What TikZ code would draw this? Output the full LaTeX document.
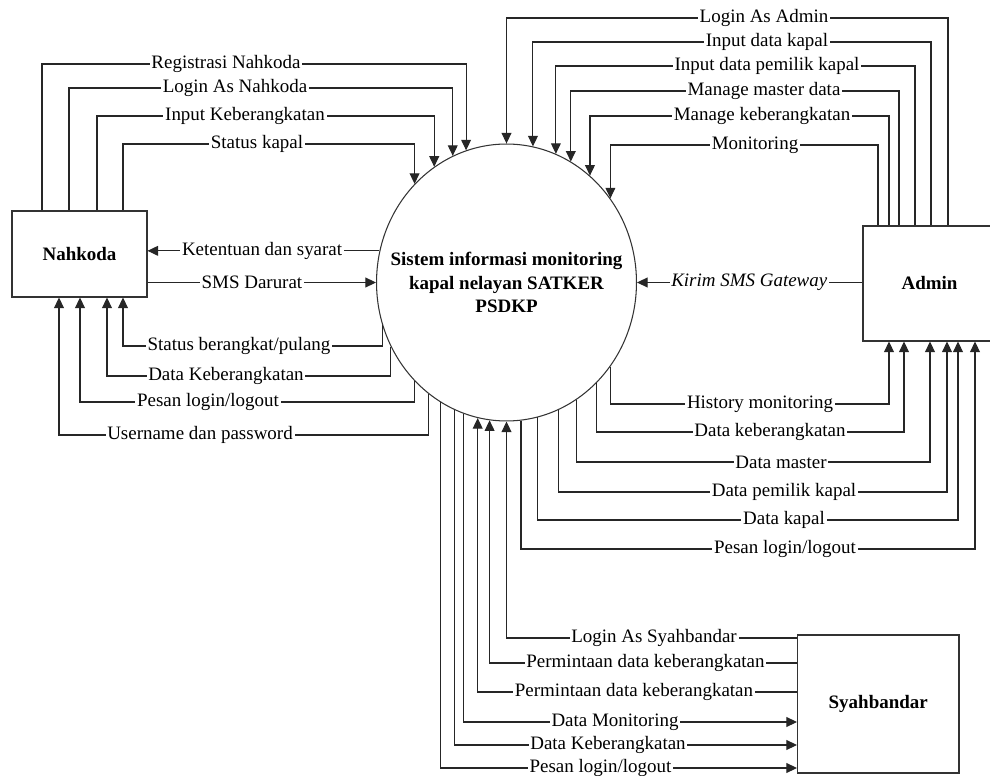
\documentclass[tikz,border=0pt]{standalone}
\usepackage{fontspec}
\setmainfont{Liberation Serif}
\usetikzlibrary{shapes.geometric, arrows.meta, positioning}
\tikzset{
	% entitas luar
	entity/.style={
		draw=black!80,
		line width=0.6pt,
		rectangle,
		font=\fontsize{10.8}{13.4}\selectfont\bfseries
	}, %
	% proses
	process/.style={
		draw=black!80,
		line width=0.6pt,
		ellipse,
		inner sep=0pt,
		minimum width=5.2cm,
		minimum height=5.54cm
	}, %
	% aliran data
	flow/.style={
		draw=black!85,
		line width=0.6pt,
		-{Triangle[length=6pt,width=5.6pt]}
	}, %
	lbl/.style={
		fill=white,
		inner xsep=1pt,
		inner ysep=0.5pt,
		font=\fontsize{10.8}{13}\selectfont
	} %
}

\begin{document}
\begin{tikzpicture}[x=0.02cm, y=-0.02cm]
			\useasboundingbox (0,0) rectangle (990,776);
			
			% proses
			\node[process] (sys) at (506.5,282.5) {};
			\node[align=center, font=\fontsize{10.8}{13.4}\selectfont\bfseries] (systext) at (sys.center)
				{Sistem informasi monitoring\\kapal nelayan SATKER\\PSDKP};
			
			% entitas
			\node[entity, minimum width=2.7cm, minimum height=1.72cm] (nah) at (79.5,254) {Nahkoda};
			\node[entity, minimum width=2.66cm, minimum height=2.3cm] (adm) at (929.5,283.5) {Admin};
			\node[entity, minimum width=3.23cm, minimum height=2.76cm] (syh) at (878.25,704) {Syahbandar};
			
			% nahkoda -> sistem
			\draw[flow] (nah.north -| 42,0) |- (226,64) node[lbl]{Registrasi Nahkoda} -| (sys.107.1);
			\draw[flow] (nah.north -| 69,0) |- (235,88) node[lbl]{Login As Nahkoda} -| (sys.113.4);
			\draw[flow] (nah.north -| 97,0) |- (245,116) node[lbl]{Input Keberangkatan} -| (sys.122.8);
			\draw[flow] (nah.north -| 123,0) |- (257,144) node[lbl]{Status kapal} -| (sys.133.5);
			\draw[flow] (nah.east |- sys.west) -- node[lbl, pos=.457]{SMS Darurat} (sys.west);
			
			% sistem -> nahkoda
			\draw[flow] (sys.166.5) -- node[lbl, pos=.506]{Ketentuan dan syarat} (nah.east |- sys.166.5);
			\draw[flow] (sys.199.3) |- (239,346) node[lbl]{Status berangkat/pulang} -| (nah.south -| 123,0);
			\draw[flow] (sys.209.5) |- (226,376) node[lbl]{Data Keberangkatan} -| (nah.south -| 107,0);
			\draw[flow] (sys.227.1) |- (208,402) node[lbl]{Pesan login/logout} -| (nah.south -| 80,0);
			\draw[flow] (sys.235.7) |- (200,435) node[lbl]{Username dan password} -| (nah.south -| 59,0);
			
			% admin -> sistem
			\draw[flow] (adm.north -| 948,0) |- (764,18) node[lbl]{Login As Admin} -| (sys.north);
			\draw[flow] (adm.north -| 931,0) |- (767,42) node[lbl]{Input data kapal} -| (sys.79.8);
			\draw[flow] (adm.north -| 915,0) |- (767,66) node[lbl]{Input data pemilik kapal} -| (sys.69.8);
			\draw[flow] (adm.north -| 899,0) |- (764,91) node[lbl]{Manage master data} -| (sys.62.8);
			\draw[flow] (adm.north -| 889,0) |- (762,116) node[lbl]{Manage keberangkatan} -| (sys.52.4);
			\draw[flow] (adm.north -| 878,0) |- (755,145) node[lbl]{Monitoring} -| (sys.39);
			\draw[flow] (adm.west |- sys.east) -- node[lbl, pos=.502, font=\fontsize{10.8}{13}\selectfont\itshape]{Kirim SMS Gateway} (sys.east);
			
			% sistem -> admin
			\draw[flow] (sys.321.7) |- (760,404) node[lbl]{History monitoring} -| (adm.south -| 889,0);
			\draw[flow] (sys.312.3) |- (770,432) node[lbl]{Data keberangkatan} -| (adm.south -| 904,0);
			\draw[flow] (sys.301.7) |- (781,462) node[lbl]{Data master} -| (adm.south -| 930,0);
			\draw[flow] (sys.292.5) |- (784,492) node[lbl]{Data pemilik kapal} -| (adm.south -| 947,0);
			\draw[flow] (sys.283.6) |- (784,520) node[lbl]{Data kapal} -| (adm.south -| 958,0);
			\draw[flow] (sys.276) |- (785,549) node[lbl]{Pesan login/logout} -| (adm.south -| 975,0);
			
			% syahbandar -> sistem
			\draw[flow] (syh.west |- 0,638) -- (654,638) node[lbl]{Login As Syahbandar} -| (sys.south);
			\draw[flow] (syh.west |- 0,663) -- (645.5,663) node[lbl]{Permintaan data keberangkatan} -| (sys.263.6);
			\draw[flow] (syh.west |- 0,692) -- (634,692) node[lbl]{Permintaan data keberangkatan} -| (sys.258.5);
			
			% sistem -> syahbandar
			\draw[flow] (sys.252.5) |- (615,722) node[lbl]{Data Monitoring} -- (syh.west |- 0,722);
			\draw[flow] (sys.248) |- (608,745) node[lbl]{Data Keberangkatan} -- (syh.west |- 0,745);
			\draw[flow] (sys.241.3) |- (600.5,768) node[lbl]{Pesan login/logout} -- (syh.west |- 0,768);
\end{tikzpicture}
\end{document}
